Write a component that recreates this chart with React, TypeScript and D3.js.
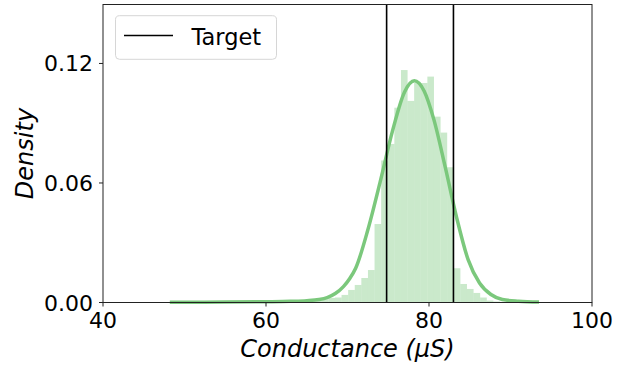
import React, { useEffect, useRef } from 'react';
import * as d3 from 'd3';

// histogram bins (regular width), densities
const binStart = 61.98;
const binWidth = 0.81;
const binDensity = [
    0.0008, 0.0005, 0.0005, 0.0008, 0.001, 0.0013, 0.0016, 0.0023, 0.0025,
    0.0038, 0.0063, 0.0088, 0.0123, 0.0163, 0.0394, 0.0713, 0.0796, 0.0978,
    0.1167, 0.1012, 0.1102, 0.1102, 0.1134, 0.0933, 0.0853, 0.0679, 0.0172,
    0.0093, 0.0068, 0.0048, 0.0025, 0.001, 0.0005,
];

// kde curve points
const kdeX = [48.2, 55, 60, 63, 65, 66.5, 67.5, 68.5, 69.5, 70.3, 71, 72.5, 74, 75.5, 77, 78.2, 79.4, 80.6, 82, 83.4, 84.8, 86.2, 87.6, 89, 91, 93.5];
const kdeY = [0.0001, 0.0002, 0.0004, 0.0006, 0.0009, 0.0015, 0.0025, 0.0045, 0.008, 0.0122, 0.0172, 0.0365, 0.0604, 0.0858, 0.1057, 0.1113, 0.1062, 0.0918, 0.0678, 0.0425, 0.0215, 0.0098, 0.004, 0.0015, 0.0006, 0.0002];

const targets = [74.8, 83.0];
const xTicks = [40, 60, 80, 100];
const yTicks = [0, 0.06, 0.12];

const green = '#7bc87c';

const App = () => {
    const ref = useRef<SVGSVGElement>(null);

    useEffect(() => {
        if (!ref.current) return;
        const svg = d3.select(ref.current);
        svg.selectAll('*').remove();

        const left = 103, right = 592, top = 4.5, bottom = 302.5;
        const x = d3.scaleLinear().domain([40, 100]).range([left, right]);
        const y = d3.scaleLinear().domain([0, 0.1496]).range([bottom, top]);
        const font = 'DejaVu Sans, sans-serif';

        // bars
        svg.append('g')
            .selectAll('rect')
            .data(binDensity)
            .enter()
            .append('rect')
            .attr('x', (d, i) => x(binStart + i * binWidth))
            .attr('width', x(binStart + binWidth) - x(binStart))
            .attr('y', d => y(d))
            .attr('height', d => y(0) - y(d))
            .attr('fill', green)
            .attr('fill-opacity', 0.4);

        // kde
        const pts = kdeX.map((v, i) => [v, kdeY[i]] as [number, number]);
        svg.append('path')
            .datum(pts)
            .attr('d', d3.line().x(d => x(d[0])).y(d => y(d[1])).curve(d3.curveMonotoneX))
            .attr('fill', 'none')
            .attr('stroke', green)
            .attr('stroke-width', 3.5)
            .attr('stroke-linejoin', 'round');

        // target lines
        svg.append('g')
            .selectAll('line')
            .data(targets)
            .enter()
            .append('line')
            .attr('x1', d => x(d)).attr('x2', d => x(d))
            .attr('y1', top).attr('y2', bottom)
            .attr('stroke', '#000')
            .attr('stroke-width', 1.6);

        // frame
        svg.append('rect')
            .attr('x', left).attr('y', top)
            .attr('width', right - left).attr('height', bottom - top)
            .attr('fill', 'none')
            .attr('stroke', '#222')
            .attr('stroke-width', 1);

        // x ticks
        const xt = svg.append('g');
        xTicks.forEach(t => {
            xt.append('line').attr('x1', x(t)).attr('x2', x(t)).attr('y1', bottom).attr('y2', bottom + 4)
                .attr('stroke', '#222');
            xt.append('text').attr('x', x(t)).attr('y', 328).attr('text-anchor', 'middle')
                .attr('font-family', font).attr('font-size', 22).attr('fill', '#000').text(t);
        });

        // y ticks
        const yt = svg.append('g');
        yTicks.forEach(t => {
            yt.append('line').attr('x1', left - 4).attr('x2', left).attr('y1', y(t)).attr('y2', y(t))
                .attr('stroke', '#222');
            yt.append('text').attr('x', 93).attr('y', y(t) + 8).attr('text-anchor', 'end')
                .attr('font-family', font).attr('font-size', 22).attr('fill', '#000').text(d3.format('.2f')(t));
        });

        // axis labels
        svg.append('text')
            .attr('x', (left + right) / 2).attr('y', 357).attr('text-anchor', 'middle')
            .attr('font-family', font).attr('font-size', 24).attr('font-style', 'italic')
            .text('Conductance (μS)');
        svg.append('text')
            .attr('transform', `translate(33,${(top + bottom) / 2}) rotate(-90)`)
            .attr('text-anchor', 'middle')
            .attr('font-family', font).attr('font-size', 24).attr('font-style', 'italic')
            .text('Density');

        // legend
        const lg = svg.append('g');
        lg.append('rect').attr('x', 115.5).attr('y', 15.7).attr('width', 161).attr('height', 43.6)
            .attr('rx', 4).attr('fill', '#fff').attr('fill-opacity', 0.8)
            .attr('stroke', '#d6d6d6').attr('stroke-width', 1);
        lg.append('line').attr('x1', 124).attr('x2', 173).attr('y1', 35.5).attr('y2', 35.5)
            .attr('stroke', '#000').attr('stroke-width', 1.6);
        lg.append('text').attr('x', 191.5).attr('y', 44.5)
            .attr('font-family', font).attr('font-size', 22.5).attr('fill', '#000').text('Target');
    }, []);

    return (
        <svg ref={ref} width={618} height={367}
            style={{ position: 'absolute', left: 0, top: 0, background: '#fff' }} />
    );
};

export default App;
